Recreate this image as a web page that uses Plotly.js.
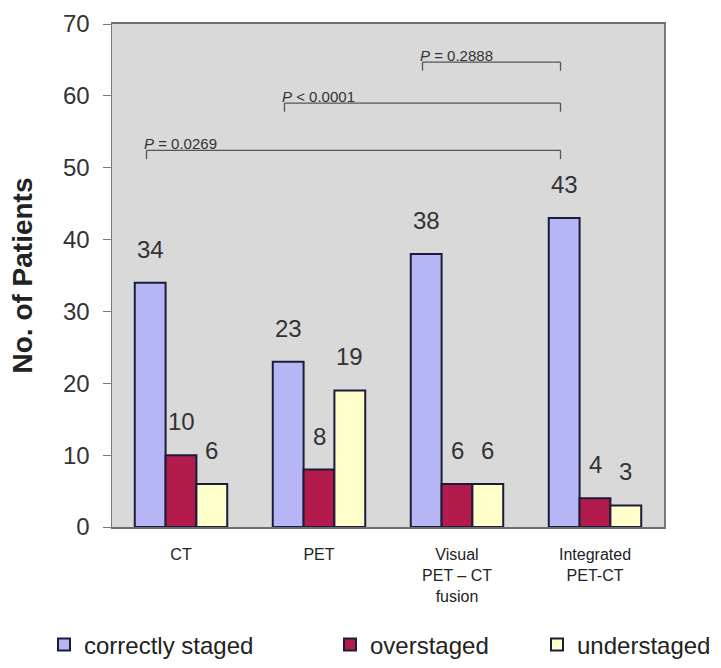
<!DOCTYPE html>
<html>
<head>
<meta charset="utf-8">
<script src="https://cdn.plot.ly/plotly-3.0.1.min.js"></script>
<style>html,body{margin:0;padding:0;background:#fff;}#chart{width:721px;height:668px;}</style>
</head>
<body>
<div id="chart"></div>
<script>
// ---- data ----
const categories = ["CT", "PET", "Visual<br>PET \u2013 CT<br>fusion", "Integrated<br>PET-CT"];
const seriesNames = ["correctly staged", "overstaged", "understaged"];
const correctlyStaged = [34, 23, 38, 43];
const overstaged = [10, 8, 6, 4];
const understaged = [6, 19, 6, 3];
const yTicks = [0, 10, 20, 30, 40, 50, 60, 70];
// comparisons: [from category index, to category index, level, label]
const pFrom = [0, 1, 2];
const pTo = [3, 3, 3];
const pLevel = [52.4, 59, 64.7];
const pLabels = ["<i>P</i> = 0.0269", "<i>P</i> < 0.0001", "<i>P</i> = 0.2888"];

// ---- styling ----
const FONT = "Liberation Sans, Arial, sans-serif";
const fills = ["#b6b6f7", "#b31b4c", "#ffffcc"];
const outline = "#1c1c3a";
const bargap = 0.33;
const barW = (1 - bargap) / 3;
const seriesValues = [correctlyStaged, overstaged, understaged];
const legendIds = ["legend", "legend2", "legend3"];
const legendX = [44 / 721, 330 / 721, 537 / 721];

const traces = seriesValues.map((vals, k) => ({
  type: "bar",
  name: seriesNames[k],
  x: categories,
  y: vals,
  marker: {color: fills[k], line: {color: outline, width: 2}},
  legend: legendIds[k],
  hoverinfo: "y"
}));

const annotations = [];
seriesValues.forEach((vals, k) => {
  vals.forEach((v, i) => {
    annotations.push({
      x: i + (k - 1) * barW, y: v, xref: "x", yref: "y",
      text: String(v), showarrow: false, yanchor: "bottom", yshift: 18,
      font: {family: FONT, size: 24, color: "#333"}
    });
  });
});

const shapes = [];
const bracketOffset = -0.25;
const tickDrop = 1.2;
pFrom.forEach((f, j) => {
  const x0 = f + bracketOffset, x1 = pTo[j] + bracketOffset, y = pLevel[j];
  const lineStyle = {color: "#555", width: 1.3};
  shapes.push({type: "line", xref: "x", yref: "y", x0: x0, x1: x1, y0: y, y1: y, line: lineStyle});
  shapes.push({type: "line", xref: "x", yref: "y", x0: x0, x1: x0, y0: y, y1: y - tickDrop, line: lineStyle});
  shapes.push({type: "line", xref: "x", yref: "y", x0: x1, x1: x1, y0: y, y1: y - tickDrop, line: lineStyle});
  annotations.push({
    x: x0, y: y, xref: "x", yref: "y", text: pLabels[j], showarrow: false,
    xanchor: "left", yanchor: "bottom", yshift: -4, xshift: -5,
    font: {family: FONT, size: 15, color: "#333"}
  });
});

const legendBase = {
  orientation: "h", xref: "container", yref: "container", yanchor: "middle", y: 1 - 645 / 668,
  font: {family: FONT, size: 24, color: "#222"},
  bgcolor: "rgba(0,0,0,0)", itemwidth: 30
};

const layout = {
  width: 721, height: 668,
  margin: {l: 112, r: 57, t: 24, b: 141},
  paper_bgcolor: "#ffffff",
  plot_bgcolor: "#d9d9d9",
  barmode: "group",
  bargap: bargap,
  bargroupgap: 0,
  font: {family: FONT, color: "#333"},
  xaxis: {
    type: "category",
    showline: true, linecolor: "#6f6f6f", linewidth: 2, mirror: true,
    ticks: "", ticklabelstandoff: 12,
    tickfont: {size: 16, color: "#222"},
    showgrid: false, zeroline: false, fixedrange: true, automargin: false
  },
  yaxis: {
    range: [0, 70],
    tickvals: yTicks,
    ticktext: yTicks.map(String),
    showline: true, linecolor: "#7a7a7a", linewidth: 1.5, mirror: true,
    ticks: "outside", ticklen: 8, tickcolor: "#7a7a7a",
    ticklabelstandoff: 8,
    tickfont: {size: 24, color: "#333"},
    showgrid: false, zeroline: false, automargin: false,
    title: {text: "<b>No. of Patients</b>", font: {size: 28, color: "#222"}, standoff: 22}
  },
  showlegend: true,
  annotations: annotations,
  shapes: shapes
};
legendIds.forEach((id, k) => { layout[id] = Object.assign({}, legendBase, {x: legendX[k]}); });

Plotly.newPlot("chart", traces, layout, {displayModeBar: false, staticPlot: true});
</script>
</body>
</html>
